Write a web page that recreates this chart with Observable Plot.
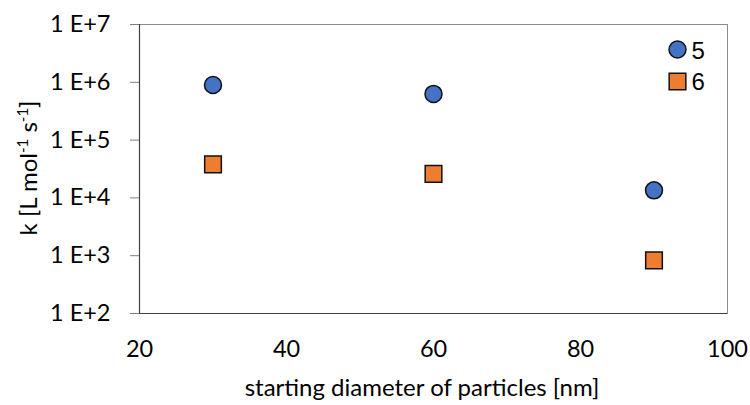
<!DOCTYPE html>
<html>
<head>
<meta charset="utf-8">
<script src="https://cdn.jsdelivr.net/npm/d3@7"></script>
<script src="https://cdn.jsdelivr.net/npm/@observablehq/plot@0.6"></script>
<style>
  html, body { margin: 0; padding: 0; background: #fff; }
  #chart { position: relative; width: 750px; height: 405px; }
</style>
</head>
<body>
<div id="chart"></div>
<script>
const diameters = [30, 60, 90];
const series5 = [9.0e5, 6.3e5, 1.35e4];
const series6 = [3.8e4, 2.6e4, 8.3e2];
const xTicks = [20, 40, 60, 80, 100];
const yTicks = [1e2, 1e3, 1e4, 1e5, 1e6, 1e7];
const seriesNames = ["5", "6"];
const colors = ["#4472C4", "#ED7D31"];

const data5 = diameters.map((d, i) => ({x: d, y: series5[i]}));
const data6 = diameters.map((d, i) => ({x: d, y: series6[i]}));

const font = "Lato, 'Open Sans', sans-serif";
const legendFont = "'Liberation Sans', Arial, sans-serif";

const plot = Plot.plot({
  width: 750,
  height: 405,
  marginLeft: 139,
  marginRight: 23,
  marginTop: 24,
  marginBottom: 92,
  style: {fontFamily: font, fontSize: "23px", color: "#000", background: "#fff"},
  x: {domain: [20, 100]},
  y: {type: "log", domain: [1e2, 1e7]},
  marks: [
    Plot.frame({stroke: "#8c8c8c", strokeWidth: 1}),
    Plot.axisX({ticks: xTicks, tickSize: 0, tickPadding: 27, tickFormat: d => String(d), label: null, fontSize: 23.5}),
    Plot.axisY({ticks: yTicks, tickSize: 9, tickPadding: 20, stroke: "#7f7f7f", tickFormat: d => `1 E+${Math.round(Math.log10(d))}`, label: null, fontSize: 23.5}),
    Plot.ruleX([20], {stroke: "#404040", strokeWidth: 1.2}),
    Plot.ruleY([1e2], {stroke: "#404040", strokeWidth: 1.2}),
    Plot.dot(data5, {x: "x", y: "y", r: 8.5, symbol: "circle", fill: colors[0], stroke: "#111", strokeWidth: 1.5}),
    Plot.dot(data6, {x: "x", y: "y", r: 9.4, symbol: "square", fill: colors[1], stroke: "#111", strokeWidth: 1.5}),
    // legend
    Plot.dot([seriesNames[0]], {frameAnchor: "top-right", dx: -50, dy: 25, r: 8.5, symbol: "circle", fill: colors[0], stroke: "#111", strokeWidth: 1.5}),
    Plot.dot([seriesNames[1]], {frameAnchor: "top-right", dx: -50, dy: 57, r: 9.4, symbol: "square", fill: colors[1], stroke: "#111", strokeWidth: 1.5}),
    Plot.text([seriesNames[0]], {text: d => d, frameAnchor: "top-right", dx: -36, dy: 27, textAnchor: "start", lineAnchor: "middle", fontSize: 24, fontFamily: legendFont}),
    Plot.text([seriesNames[1]], {text: d => d, frameAnchor: "top-right", dx: -36, dy: 58, textAnchor: "start", lineAnchor: "middle", fontSize: 24, fontFamily: legendFont})
  ]
});

const svg = d3.select(plot);
// x-axis title
svg.append("text")
  .attr("x", 422).attr("y", 390)
  .attr("text-anchor", "middle").attr("dominant-baseline", "middle")
  .attr("font-family", font).attr("font-size", 24).attr("fill", "#000")
  .text("starting diameter of particles [nm]");
// y-axis title with superscripts
const yt = svg.append("text")
  .attr("transform", "translate(37,168) rotate(-90)")
  .attr("text-anchor", "middle")
  .attr("font-family", font).attr("font-size", 24).attr("fill", "#000");
yt.append("tspan").text("k [L mol");
yt.append("tspan").attr("baseline-shift", "super").attr("font-size", 15).text("-1");
yt.append("tspan").text(" s");
yt.append("tspan").attr("baseline-shift", "super").attr("font-size", 15).text("-1");
yt.append("tspan").text("]");

document.getElementById("chart").appendChild(plot);
</script>
</body>
</html>
